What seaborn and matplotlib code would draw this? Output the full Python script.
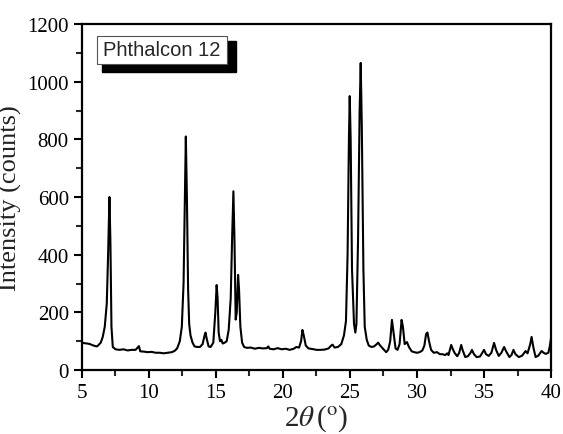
import pandas as pd
import seaborn as sns
import matplotlib.pyplot as plt
from matplotlib.patches import Rectangle
from matplotlib.ticker import MultipleLocator

# 2theta (deg) and intensity (counts)
two_theta = [5.0, 5.2, 5.4, 5.6, 5.8, 6.0, 6.1, 6.2, 6.4, 6.55, 6.7, 6.85, 6.95, 7.05, 7.12, 7.2, 7.3,
             7.5, 7.8, 8.1, 8.4, 8.7, 9.0, 9.15, 9.25, 9.35, 9.6, 9.9, 10.2, 10.5, 10.8, 11.1, 11.4,
             11.7, 11.9, 12.1, 12.3, 12.45, 12.58, 12.68, 12.75, 12.83, 12.92, 13.0, 13.1, 13.25,
             13.4, 13.6, 13.8, 14.0, 14.15, 14.22, 14.3, 14.45, 14.6, 14.8, 14.95, 15.05, 15.12,
             15.2, 15.3, 15.4, 15.5, 15.65, 15.8, 15.95, 16.1, 16.2, 16.3, 16.38, 16.47, 16.55,
             16.65, 16.72, 16.82, 16.95, 17.1, 17.3, 17.6, 17.9, 18.2, 18.5, 18.8, 18.9, 19.0,
             19.3, 19.6, 19.9, 20.2, 20.5, 20.8, 21.0, 21.2, 21.35, 21.45, 21.55, 21.7, 21.9, 22.2,
             22.5, 22.8, 23.1, 23.4, 23.6, 23.7, 23.85, 24.1, 24.35, 24.55, 24.7, 24.82, 24.92,
             24.98, 25.05, 25.15, 25.3, 25.4, 25.48, 25.6, 25.72, 25.8, 25.88, 26.0, 26.1, 26.25,
             26.4, 26.6, 26.8, 27.0, 27.1, 27.25, 27.45, 27.7, 27.85, 28.0, 28.13, 28.25, 28.4,
             28.55, 28.7, 28.85, 28.95, 29.08, 29.25, 29.4, 29.6, 29.8, 30.0, 30.2, 30.4, 30.55,
             30.68, 30.78, 30.9, 31.05, 31.25, 31.5, 31.7, 31.9, 32.1, 32.25, 32.35, 32.55, 32.65,
             32.8, 33.0, 33.15, 33.3, 33.4, 33.6, 33.8, 34.0, 34.1, 34.25, 34.45, 34.7, 34.85, 35.0,
             35.15, 35.35, 35.55, 35.75, 35.9, 36.1, 36.3, 36.5, 36.65, 36.9, 37.05, 37.2, 37.35,
             37.6, 37.85, 38.1, 38.25, 38.45, 38.55, 38.7, 38.85, 39.05, 39.3, 39.45, 39.6, 39.8,
             39.9, 40.0]
intensity = [95, 93, 92, 90, 86, 83, 82, 85, 95, 115, 150, 230, 400, 600, 450, 150, 80,
             72, 70, 72, 68, 70, 70, 78, 83, 65, 64, 62, 63, 60, 60, 58, 60,
             62, 66, 75, 100, 150, 300, 600, 810, 600, 280, 160, 120, 95,
             82, 80, 80, 90, 120, 130, 110, 82, 80, 95, 200, 295, 250,
             130, 100, 105, 92, 95, 100, 140, 250, 450, 620, 450, 175, 200,
             330, 280, 150, 95, 80, 77, 78, 74, 77, 75, 76, 82, 74,
             72, 76, 72, 74, 70, 74, 80, 78, 100, 139, 120, 85, 75, 73,
             70, 70, 71, 75, 85, 88, 78, 80, 90, 120, 170, 400, 800,
             950, 800, 350, 160, 130, 160, 450, 900, 1065, 850, 350, 150, 105,
             85, 80, 82, 90, 95, 85, 75, 62, 70, 100, 174, 130, 75,
             70, 90, 174, 150, 90, 97, 80, 65, 62, 60, 62, 68, 85,
             125, 130, 100, 70, 60, 62, 55, 55, 52, 58, 52, 87, 75,
             60, 48, 60, 87, 70, 45, 48, 60, 70, 55, 45, 47, 58, 70,
             55, 49, 60, 94, 70, 49, 60, 80, 65, 45, 52, 70, 55,
             45, 50, 66, 58, 90, 115, 75, 45, 50, 66, 60, 56, 60,
             80, 110]

df = pd.DataFrame({"two_theta": two_theta, "intensity": intensity})

sns.set_style("ticks")
plt.rcParams['font.family'] = ['Liberation Serif', 'DejaVu Serif']
plt.rcParams['mathtext.fontset'] = 'stix'

fig = plt.figure(figsize=(5.63, 4.35), dpi=100)
ax = fig.add_axes([0.1456, 0.147, 0.8331, 0.7955])

sns.lineplot(data=df, x="two_theta", y="intensity", color="black", linewidth=1.5, ax=ax)

ax.set_xlim(5, 40)
ax.set_ylim(0, 1200)
ax.xaxis.set_major_locator(MultipleLocator(5))
ax.xaxis.set_minor_locator(MultipleLocator(2.5))
ax.yaxis.set_major_locator(MultipleLocator(200))
ax.yaxis.set_minor_locator(MultipleLocator(100))
ax.tick_params(which='major', direction='out', length=6, width=1.5, labelsize=15, colors='black')
ax.tick_params(which='minor', direction='out', length=4, width=1.5)
for s in ax.spines.values():
    s.set_linewidth(1.6)
    s.set_color('black')

ax.set_xlabel(r'2$\it{\theta}\,$($^{\rm o}$)', fontsize=21, labelpad=0)
ax.set_ylabel('Intensity (counts)', fontsize=19, labelpad=4, color='#222222')

# label box with drop shadow
ax.add_patch(Rectangle((0.0426, 0.861), 0.286, 0.090, transform=ax.transAxes,
                       facecolor='black', edgecolor='black', zorder=4))
ax.add_patch(Rectangle((0.032, 0.884), 0.277, 0.081, transform=ax.transAxes,
                       facecolor='white', edgecolor='#555555', linewidth=0.8, zorder=5))
ax.text(0.1706, 0.925, 'Phthalcon 12', transform=ax.transAxes, ha='center', va='center',
        fontsize=14.5, family=['Liberation Sans', 'DejaVu Sans'], zorder=6)

fig.savefig('out.png', dpi=100)
